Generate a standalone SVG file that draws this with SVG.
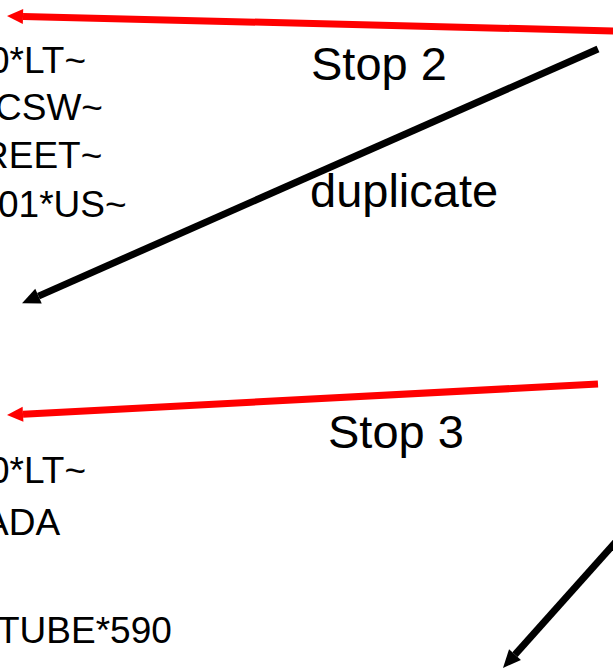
<svg xmlns="http://www.w3.org/2000/svg" width="613" height="670" viewBox="0 0 613 670">
<style>
.txt{font-family:"Liberation Sans",Arial,sans-serif;font-size:37px;fill:#000}
.lbl{font-family:"Liberation Sans",Arial,sans-serif;font-size:47px;fill:#000}
.red{stroke:#ff0000;stroke-width:7;fill:none}
.blk{stroke:#000;stroke-width:7;fill:none}
</style>
<defs>
<marker id="hr" markerUnits="userSpaceOnUse" markerWidth="17" markerHeight="16" refX="0" refY="8" orient="auto" overflow="visible">
<path d="M0,0.5 L16,8 L0,15.5 z" fill="#ff0000"/>
</marker>
<marker id="hb" markerUnits="userSpaceOnUse" markerWidth="19" markerHeight="16" refX="0" refY="8" orient="auto" overflow="visible">
<path d="M0,0 L18,8 L0,16 z" fill="#000"/>
</marker>
</defs>
<rect width="613" height="670" fill="#fff"/>
<g id="text-block-1">
<text class="txt" x="-11" y="73">0*LT~</text>
<text class="txt" x="-5" y="120">CSW~</text>
<text class="txt" x="-18" y="168">REET~</text>
<text class="txt" x="-2" y="217">01*US~</text>
</g>
<g id="text-block-2">
<text class="txt" x="-11" y="483">0*LT~</text>
<text class="txt" x="-16" y="535">ADA</text>
<text class="txt" x="-3" y="643">TUBE*590</text>
</g>
<g id="labels">
<text class="lbl" x="311" y="80">Stop 2</text>
<text class="lbl" x="310" y="207">duplicate</text>
<text class="lbl" x="328" y="448">Stop 3</text>
</g>
<g id="connectors">
<path class="red" d="M615,31 L23,16.4" marker-end="url(#hr)"/>
<path class="blk" d="M598,49 L38.5,296.1" marker-end="url(#hb)"/>
<path class="red" d="M598,384 L23,414.2" marker-end="url(#hr)"/>
<path class="blk" d="M620,537.2 L515,654.6" marker-end="url(#hb)"/>
</g>
</svg>
